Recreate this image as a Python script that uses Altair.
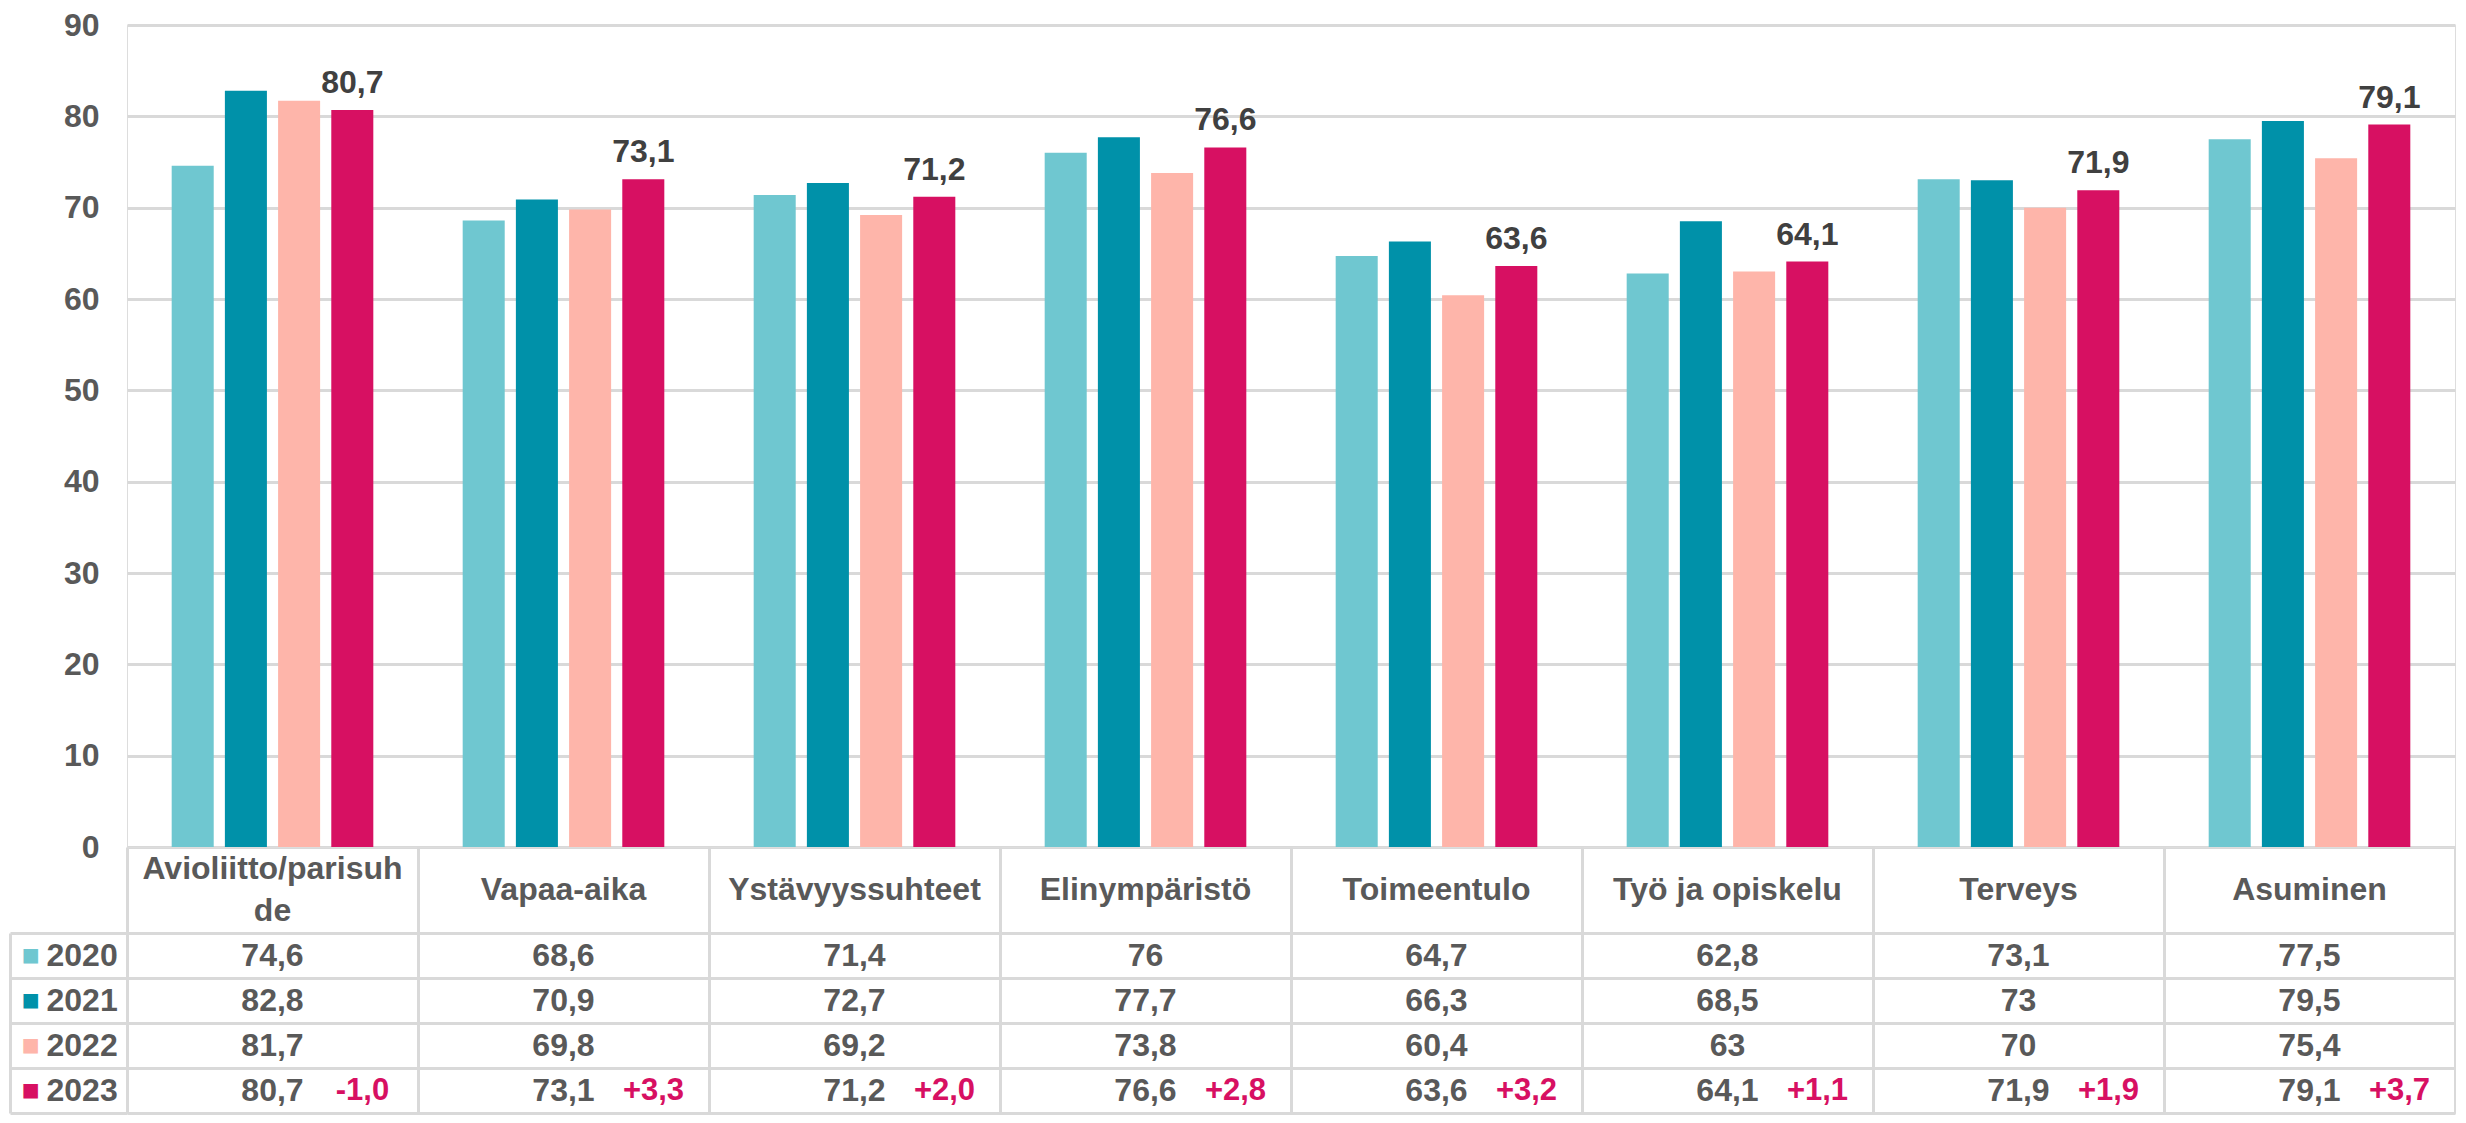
import altair as alt
import pandas as pd

categories = ["Avioliitto/parisuhde", "Vapaa-aika", "Ystävyyssuhteet", "Elinympäristö",
              "Toimeentulo", "Työ ja opiskelu", "Terveys", "Asuminen"]
header_labels = ["Avioliitto/parisuh\nde", "Vapaa-aika", "Ystävyyssuhteet", "Elinympäristö",
                 "Toimeentulo", "Työ ja opiskelu", "Terveys", "Asuminen"]
years = ["2020", "2021", "2022", "2023"]
v2020 = [74.6, 68.6, 71.4, 76, 64.7, 62.8, 73.1, 77.5]
v2021 = [82.8, 70.9, 72.7, 77.7, 66.3, 68.5, 73, 79.5]
v2022 = [81.7, 69.8, 69.2, 73.8, 60.4, 63, 70, 75.4]
v2023 = [80.7, 73.1, 71.2, 76.6, 63.6, 64.1, 71.9, 79.1]
changes = ["-1,0", "+3,3", "+2,0", "+2,8", "+3,2", "+1,1", "+1,9", "+3,7"]
y_ticks = [0, 10, 20, 30, 40, 50, 60, 70, 80, 90]
colors = ["#6FC7D0", "#0091A9", "#FEB5AA", "#D71062"]

FONT = "Liberation Sans"
GRID = "#D9D9D9"
TXT = "#595959"
MAG = "#D71062"
W = 2328

series = {"2020": v2020, "2021": v2021, "2022": v2022, "2023": v2023}
rows = []
for y in years:
    for c, v in zip(categories, series[y]):
        rows.append({"category": c, "year": y, "value": v,
                     "label": f"{v:g}".replace(".", ",")})
df = pd.DataFrame(rows)
hdr_df = pd.DataFrame({"category": categories, "header": header_labels})
delta_df = pd.DataFrame({"category": categories, "year": ["2023"] * len(categories), "change": changes})

x_scale = alt.Scale(domain=categories, paddingInner=0, paddingOuter=0)

# ---- top bar chart ----
x_top = alt.X("category:N", sort=categories, scale=x_scale, axis=None)
xo = alt.XOffset("year:N", sort=years,
                 scale=alt.Scale(domain=years, paddingInner=0.21, paddingOuter=0.84))
y_top = alt.Y("value:Q", scale=alt.Scale(domain=[0, 90], nice=False, zero=True),
              axis=alt.Axis(values=y_ticks, title=None, grid=True, gridColor=GRID, gridWidth=3,
                            domain=False, ticks=False, labelPadding=28, labelFontSize=32,
                            labelFontWeight="bold", labelColor=TXT, labelFont=FONT))
bars = alt.Chart(df).mark_bar().encode(
    x=x_top, xOffset=xo, y=y_top,
    color=alt.Color("year:N", sort=years, scale=alt.Scale(domain=years, range=colors), legend=None),
)
bar_labels = alt.Chart(df).transform_filter("datum.year == '2023'").mark_text(
    baseline="alphabetic", dy=-17, fontSize=32, fontWeight="bold", color="#404040", font=FONT
).encode(x=x_top, xOffset=xo, y=y_top, text="label:N")
top = alt.layer(bars, bar_labels).properties(width=W, height=822)

# ---- table header row ----
x_grid_axis = alt.Axis(title=None, labels=False, ticks=False, domain=False, grid=True,
                       gridColor=GRID, gridWidth=3, tickBand="extent")
x_tab = alt.X("category:N", sort=categories, scale=x_scale, axis=x_grid_axis)
hdr_one = alt.Chart(hdr_df).transform_filter("indexof(datum.header, '\\n') < 0").mark_text(
    fontSize=32, fontWeight="bold", color=TXT, font=FONT, baseline="middle"
).encode(x=x_tab, text="header:N")
hdr_two = alt.Chart(hdr_df).transform_filter("indexof(datum.header, '\\n') >= 0").mark_text(
    fontSize=32, fontWeight="bold", color=TXT, font=FONT, lineBreak="\n", lineHeight=42,
    baseline="middle", dy=-21
).encode(x=x_tab, text="header:N")
header = alt.layer(hdr_one, hdr_two).properties(width=W, height=86)

# ---- table body ----
row_scale = alt.Scale(domain=years, paddingInner=0, paddingOuter=0)
y_rows = alt.Y("year:N", sort=years, scale=row_scale,
               axis=alt.Axis(title=None, orient="left", labelAlign="left", labelPadding=-36,
                             labelBaseline="middle", tickBand="extent", ticks=True, tickSize=117,
                             tickColor=GRID, tickWidth=3, grid=True, gridColor=GRID, gridWidth=3,
                             domain=True, domainColor=GRID, domainWidth=3, labelFontSize=32,
                             labelFontWeight="bold", labelColor=TXT, labelFont=FONT))
vals = alt.Chart(df).mark_text(fontSize=32, fontWeight="bold", color=TXT, font=FONT,
                               baseline="middle").encode(
    x=x_tab, y=y_rows, text="label:N")

label_color = {
    "condition": [
        {"test": "datum.value === '2020'", "value": colors[0]},
        {"test": "datum.value === '2021'", "value": colors[1]},
        {"test": "datum.value === '2022'", "value": colors[2]},
    ],
    "value": colors[3],
}
y_legend = alt.Y("year:N", sort=years, scale=alt.Scale(domain=years, paddingInner=0, paddingOuter=0),
                 axis=alt.Axis(title=None, orient="left", offset=117, domain=True, domainColor=GRID,
                               domainWidth=3, ticks=False, grid=False, labelExpr="'■'",
                               labelAlign="left", labelPadding=-11, labelFontSize=30,
                               labelBaseline="middle", labelFont=FONT, labelColor=label_color))
deltas = alt.Chart(delta_df).mark_text(dx=90, fontSize=31, fontWeight="bold", color=MAG, font=FONT,
                                       baseline="middle").encode(
    x=x_tab, y=y_legend, text="change:N")
body = alt.layer(vals, deltas).resolve_scale(y="independent").properties(width=W, height=180)

chart = alt.vconcat(top, header, body, spacing=0, bounds="flush").properties(
    padding=0
).configure_view(stroke=None).configure(font=FONT)

chart.save("out.html", embed_options={"renderer": "svg", "actions": False})
